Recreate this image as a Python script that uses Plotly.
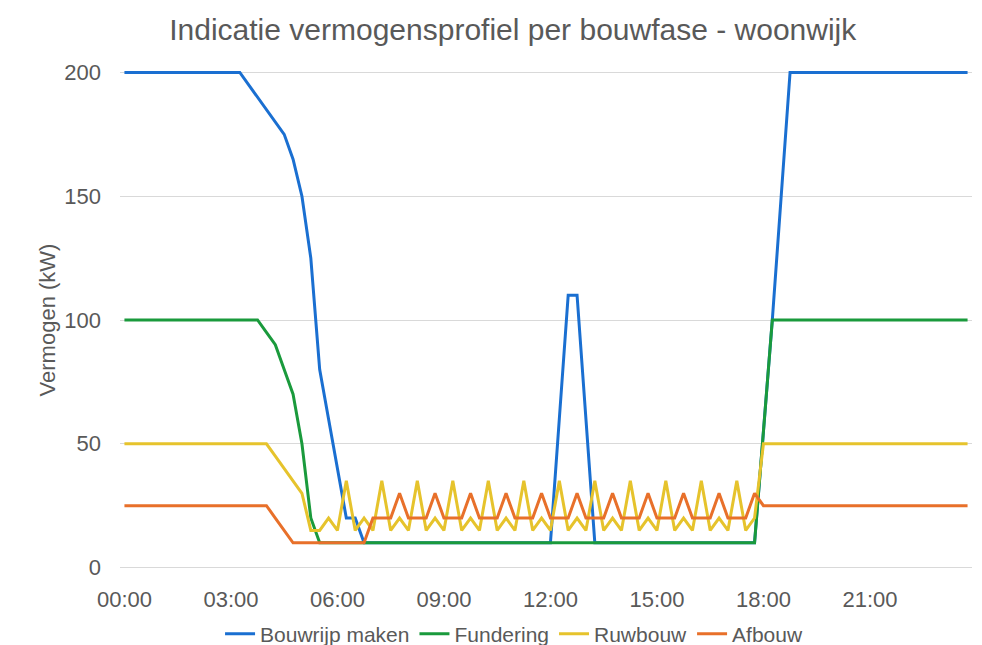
import plotly.graph_objects as go

# Categories: 15-minute time slots over one day
times = [f"{h:02d}:{m:02d}" for h in range(24) for m in (0, 15, 30, 45)]

tick_vals = ["00:00", "03:00", "06:00", "09:00", "12:00", "15:00", "18:00", "21:00"]
tick_text = ["00:00", "03:00", "06:00", "09:00", "12:00", "15:00", "18:00", "21:00"]

bouwrijp_maken = [
    200, 200, 200, 200, 200, 200, 200, 200, 200, 200, 200, 200, 200, 200,
    195, 190, 185, 180, 175, 165, 150, 125, 80, 60, 40, 20, 20,
    10, 10, 10, 10, 10, 10, 10, 10, 10, 10, 10, 10, 10, 10, 10, 10, 10, 10, 10, 10, 10,
    10, 60, 110, 110, 60, 10,
    10, 10, 10, 10, 10, 10, 10, 10, 10, 10, 10, 10, 10, 10, 10, 10, 10, 10,
    55, 100, 150, 200,
    200, 200, 200, 200, 200, 200, 200, 200, 200, 200, 200, 200, 200, 200, 200, 200, 200, 200, 200, 200,
]

fundering = [
    100, 100, 100, 100, 100, 100, 100, 100, 100, 100, 100, 100, 100, 100, 100, 100,
    95, 90, 80, 70, 50, 20,
    10, 10, 10, 10, 10, 10, 10, 10, 10, 10, 10, 10, 10, 10, 10, 10, 10, 10, 10, 10, 10, 10, 10, 10, 10,
    10, 10, 10, 10, 10, 10, 10, 10, 10, 10, 10, 10, 10, 10, 10, 10, 10, 10, 10, 10, 10, 10, 10, 10, 10,
    55,
    100, 100, 100, 100, 100, 100, 100, 100, 100, 100, 100, 100, 100, 100, 100, 100, 100, 100, 100, 100, 100, 100, 100,
]

ruwbouw = [
    50, 50, 50, 50, 50, 50, 50, 50, 50, 50, 50, 50, 50, 50, 50, 50, 50,
    45, 40, 35, 30, 15, 15, 20, 15,
    35, 15, 20, 15, 35, 15, 20, 15, 35, 15, 20, 15, 35, 15, 20, 15,
    35, 15, 20, 15, 35, 15, 20, 15, 35, 15, 20, 15, 35, 15, 20, 15,
    35, 15, 20, 15, 35, 15, 20, 15, 35, 15, 20, 15,
    35, 15, 20,
    50, 50, 50, 50, 50, 50, 50, 50, 50, 50, 50, 50, 50, 50, 50, 50, 50, 50, 50, 50, 50, 50, 50, 50,
]

afbouw = [
    25, 25, 25, 25, 25, 25, 25, 25, 25, 25, 25, 25, 25, 25, 25, 25, 25,
    20, 15, 10,
    10, 10, 10, 10, 10, 10, 10, 10,
    20, 20, 20, 30,
    20, 20, 20, 30, 20, 20, 20, 30, 20, 20, 20, 30, 20, 20, 20, 30, 20, 20, 20, 30,
    20, 20, 20, 30, 20, 20, 20, 30, 20, 20, 20, 30, 20, 20, 20, 30, 20, 20, 20, 30,
    25, 25, 25, 25, 25, 25, 25, 25, 25, 25, 25, 25, 25, 25, 25, 25, 25, 25, 25, 25, 25, 25, 25, 25,
]

series_names = ["Bouwrijp maken", "Fundering", "Ruwbouw", "Afbouw"]
series_values = [bouwrijp_maken, fundering, ruwbouw, afbouw]
series_colors = ["#1a6fd1", "#1a9a3c", "#e6c32c", "#e8702a"]

FONT = "Liberation Sans, Arial, sans-serif"
TXT = "#595959"

fig = go.Figure()
for name, vals, col in zip(series_names, series_values, series_colors):
    fig.add_trace(go.Scatter(
        x=times, y=vals, name=name, mode="lines",
        line=dict(color=col, width=3),
    ))

fig.update_layout(
    width=982, height=645,
    paper_bgcolor="white", plot_bgcolor="white",
    margin=dict(l=112, r=18, t=63, b=84, autoexpand=False),
    font=dict(family=FONT, color=TXT, size=21),
    title=dict(
        text="Indicatie vermogensprofiel per bouwfase - woonwijk",
        x=0.514, xanchor="center", y=0.966, yanchor="middle",
        font=dict(family=FONT, size=30, color=TXT),
    ),
    showlegend=True,
    legend=dict(
        orientation="h", x=0.4625, xanchor="center", y=-0.1305, yanchor="middle",
        font=dict(family=FONT, size=21, color=TXT),
        itemwidth=30, tracegroupgap=0,
    ),
    xaxis=dict(
        type="category",
        range=[-0.5, 95.5],
        tickmode="array", tickvals=tick_vals, ticktext=tick_text,
        showgrid=False, showline=False, zeroline=False,
        ticks="", ticklabelstandoff=15, automargin=False,
        tickfont=dict(family=FONT, size=22, color=TXT),
    ),
    yaxis=dict(
        range=[-0.6, 200.6],
        tickvals=[0, 50, 100, 150, 200],
        showgrid=True, gridcolor="#d9d9d9", gridwidth=1,
        zeroline=False, showline=False, ticks="",
        ticklabelstandoff=18, automargin=False,
        tickfont=dict(family=FONT, size=22, color=TXT),
        title=dict(text="Vermogen (kW)", standoff=2,
                   font=dict(family=FONT, size=22, color=TXT)),
    ),
)

fig.write_html("out.html")
